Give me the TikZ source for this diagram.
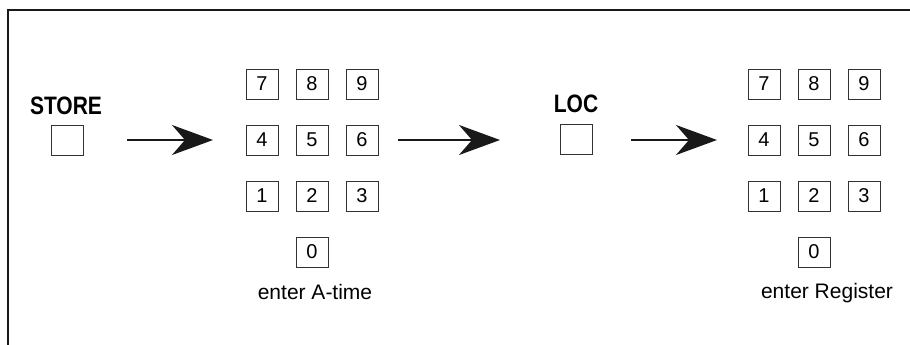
\documentclass[tikz,border=0pt]{standalone}
\usepackage{fontspec}
\setmainfont{Liberation Sans}
\usetikzlibrary{arrows.meta}
\newcommand{\tallcaps}[1]{\scalebox{1}[1.2]{#1}}
\begin{document}
\begin{tikzpicture}[x=1pt,y=-1pt,
  key/.style={draw=black!80, line width=0.8pt, minimum width=32pt, minimum height=30pt,
              inner sep=0pt, font=\fontsize{20}{20}\selectfont},
  btnlabel/.style={font=\fontsize{21}{21}\selectfont\bfseries, inner sep=0pt},
  caption/.style={font=\fontsize{21}{21}\selectfont, inner sep=0pt},
  flow/.style={line width=2pt, black!90, -{Stealth[length=41pt, width=30pt, inset=13pt]}}]
\useasboundingbox (0,0) rectangle (910,345);
% open frame: top and left edges only
\draw[line width=2.2pt, black!90] (8,345) -- (8,10) -- (910,10);

% STORE button
\node[btnlabel] (storelbl) at (66,106) {\tallcaps{STORE}};
\node[key] (store) at (67,140) {};

% keypad for the A-time
\foreach \d/\c/\r in {7/0/0,8/1/0,9/2/0,4/0/1,5/1/1,6/2/1,1/0/2,2/1/2,3/2/2,0/1/3}
  \node[key] (a\d) at (262+50*\c, 84+56*\r) {\d};
\node[caption] (atime) at (315,292) {enter A-time};

% LOC button
\node[btnlabel] (loclbl) at (576,104) {\tallcaps{LOC}};
\node[key] (loc) at (576,139) {};

% keypad for the register
\foreach \d/\c/\r in {7/0/0,8/1/0,9/2/0,4/0/1,5/1/1,6/2/1,1/0/2,2/1/2,3/2/2,0/1/3}
  \node[key] (r\d) at (764+50*\c, 84+56*\r) {\d};
\node[caption] (reg) at (827,293) {enter Register};

% sequence arrows
\coordinate (s1) at (127,140);
\coordinate (e1) at (213,140);
\coordinate (s2) at (398,140);
\coordinate (e2) at (500,140);
\coordinate (s3) at (631,140);
\coordinate (e3) at (717,140);
\draw[flow] (s1) -- (e1);
\draw[flow] (s2) -- (e2);
\draw[flow] (s3) -- (e3);
\end{tikzpicture}
\end{document}
